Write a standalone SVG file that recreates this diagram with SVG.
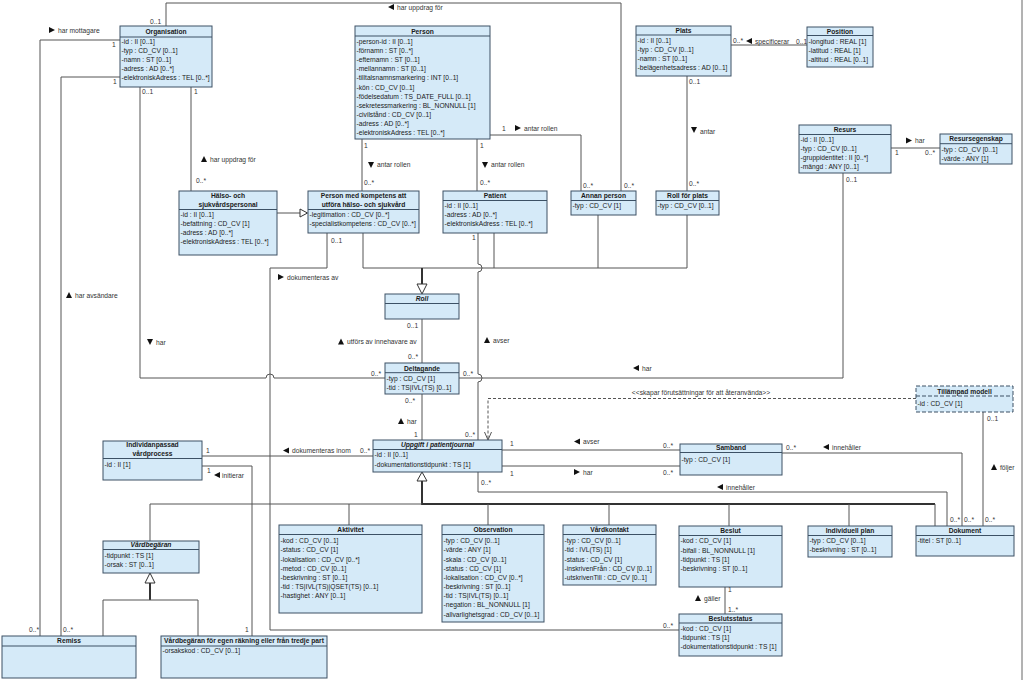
<svg xmlns="http://www.w3.org/2000/svg" width="1024" height="680" viewBox="0 0 1024 680">
<style>
.bg{fill:#ffffff}
.box{fill:#d5eaf8;stroke:#3c5165;stroke-width:1}
.dbox{fill:#d5eaf8;stroke:#3c5165;stroke-width:1;stroke-dasharray:4,2}
.sep{stroke:#3c5165;stroke-width:1}
.dsep{stroke:#3c5165;stroke-width:1;stroke-dasharray:4,2}
text{font-family:"Liberation Sans",Arial,sans-serif;font-size:6.7px;fill:#1a1a1a}
.h{font-weight:bold;text-anchor:middle}
.hi{font-weight:bold;font-style:italic;text-anchor:middle}
.lb{fill:#333}
.ln{fill:none;stroke:#555;stroke-width:1}
.gen{fill:none;stroke:#333;stroke-width:2}
.dl{fill:none;stroke:#555;stroke-width:1;stroke-dasharray:3,2}
.tri{fill:#fff;stroke:#333;stroke-width:1}
.ar{fill:#111}
</style>
<rect class="bg" x="0" y="0" width="1024" height="680"/>
<line x1="1022" y1="0" x2="1022" y2="680" stroke="#666" stroke-width="1"/>

<g id="connectors">
  <!-- Organisation top -> Annan person -->
  <path class="ln" d="M166,26 V3 H621 V191"/>
  <text class="lb" x="150" y="24">0..1</text>
  <polygon class="ar" points="394,4 388,7 394,10"/><text class="lb" x="397" y="9.5">har uppdrag för</text>
  <text class="lb" x="624" y="188">0..*</text>
  <!-- har mottagare -->
  <path class="ln" d="M120,40 H40 V636"/>
  <text class="lb" x="112" y="46.5">1</text>
  <polygon class="ar" points="49,27 55,30 49,33"/><text class="lb" x="58" y="33">har mottagare</text>
  <text class="lb" x="29" y="631.6">0..*</text>
  <!-- har avsändare -->
  <path class="ln" d="M120,77 H61 V636"/>
  <text class="lb" x="113" y="84">1</text>
  <polygon class="ar" points="66,298 69,292 72,298"/><text class="lb" x="75" y="297.5">har avsändare</text>
  <text class="lb" x="63" y="631.6">0..*</text>
  <!-- Organisation -> Deltagande har -->
  <path class="ln" d="M140,87 V378 H266 a4,4 0 0 1 8,0 H385"/>
  <text class="lb" x="142" y="94">0..1</text>
  <polygon class="ar" points="147,339 153,339 150,345"/><text class="lb" x="156" y="344.5">har</text>
  <text class="lb" x="371" y="376">0..*</text>
  <!-- Organisation -> Hälso har uppdrag för -->
  <path class="ln" d="M191,87 V191"/>
  <text class="lb" x="194" y="94">1</text>
  <polygon class="ar" points="201,162 204,156 207,162"/><text class="lb" x="210" y="161.5">har uppdrag för</text>
  <text class="lb" x="196" y="183">0..*</text>
  <!-- Hälso -> PMK generalization -->
  <path class="ln" d="M277,213 H300"/>
  <polygon class="tri" points="300,209 307.5,213 300,217"/>
  <!-- Person -> PMK -->
  <path class="ln" d="M362,139 V191"/>
  <text class="lb" x="364" y="148">1</text>
  <polygon class="ar" points="368,162 374,162 371,168"/><text class="lb" x="377" y="167">antar rollen</text>
  <text class="lb" x="364" y="184.5">0..*</text>
  <!-- Person -> Patient -->
  <path class="ln" d="M477,139 V191"/>
  <text class="lb" x="480" y="148">1</text>
  <polygon class="ar" points="482,162 488,162 485,168"/><text class="lb" x="491" y="167">antar rollen</text>
  <text class="lb" x="480" y="184.5">0..*</text>
  <!-- Person -> Annan person -->
  <path class="ln" d="M490,135 H581 V191"/>
  <text class="lb" x="502" y="131">1</text>
  <polygon class="ar" points="515,125 521,128 515,131"/><text class="lb" x="524" y="130.5">antar rollen</text>
  <text class="lb" x="583" y="188">0..*</text>
  <!-- Plats -> Position -->
  <path class="ln" d="M731,45 H807"/>
  <text class="lb" x="733" y="42.5">0..*</text>
  <polygon class="ar" points="752,38 746,41 752,44"/><text class="lb" x="755" y="43.5">specificerar</text>
  <text class="lb" x="796" y="43.5">0..1</text>
  <!-- Plats -> Roll för plats -->
  <path class="ln" d="M687,76 V191"/>
  <text class="lb" x="689" y="83.5">0..1</text>
  <polygon class="ar" points="691,127 697,127 694,133"/><text class="lb" x="700" y="133.5">antar</text>
  <text class="lb" x="689" y="186">0..*</text>
  <!-- Resurs -> Resursegenskap -->
  <path class="ln" d="M891,148 H940"/>
  <text class="lb" x="895" y="155">1</text>
  <polygon class="ar" points="906,137.5 912,140.5 906,143.5"/><text class="lb" x="915" y="143">har</text>
  <text class="lb" x="925" y="155">0..*</text>
  <!-- Resurs -> Deltagande -->
  <path class="ln" d="M843,173 V378 H459"/>
  <text class="lb" x="846" y="181.5">0..1</text>
  <polygon class="ar" points="639,365 633,368 639,371"/><text class="lb" x="642" y="370.5">har</text>
  <text class="lb" x="463" y="376">0..*</text>
  <!-- Roll -> Deltagande -->
  <path class="ln" d="M422,319 V363"/>
  <text class="lb" x="407" y="328">0..1</text>
  <polygon class="ar" points="338,344.5 341,338.5 344,344.5"/><text class="lb" x="347" y="344">utförs av innehavare av</text>
  <text class="lb" x="408" y="359">0..*</text>
  <!-- Deltagande -> Uppgift -->
  <path class="ln" d="M422,394 V440"/>
  <text class="lb" x="405" y="403">0..*</text>
  <polygon class="ar" points="398,424 401,418 404,424"/><text class="lb" x="407" y="423.5">har</text>
  <text class="lb" x="414" y="436.5">1</text>
  <!-- Patient -> Uppgift avser -->
  <path class="ln" d="M478,233 V264 a4,4 0 0 1 0,8 V374 a4,4 0 0 1 0,8 V440"/>
  <text class="lb" x="472" y="240">1</text>
  <polygon class="ar" points="484,343 487,337 490,343"/><text class="lb" x="493" y="343">avser</text>
  <text class="lb" x="465" y="436.5">0..*</text>
  <!-- generalization to Roll -->
  <path class="ln" d="M363,233 V268 H687 M494,233 V268 M598,215 V268 M687,215 V268"/>
  <path class="gen" d="M422,268 V284"/>
  <polygon class="tri" points="417,284 427,284 422,294"/>
  <!-- PMK -> Beslutsstatus dokumenteras av -->
  <path class="ln" d="M327,233 V268 H270 V630 H679"/>
  <text class="lb" x="331" y="243">0..1</text>
  <polygon class="ar" points="278,274 284,277 278,280"/><text class="lb" x="287" y="280">dokumenteras av</text>
  <text class="lb" x="663" y="627.5">0..*</text>
  <!-- Individanpassad -> Uppgift -->
  <path class="ln" d="M202,456 H373"/>
  <text class="lb" x="206" y="453">1</text>
  <polygon class="ar" points="289,447.5 283,450.5 289,453.5"/><text class="lb" x="292" y="453">dokumenteras inom</text>
  <text class="lb" x="360" y="453">0..*</text>
  <!-- initierar -->
  <path class="ln" d="M202,466 H252 V636"/>
  <text class="lb" x="207" y="472.5">1</text>
  <polygon class="ar" points="220,472 214,475 220,478"/><text class="lb" x="222" y="477.5">initierar</text>
  <text class="lb" x="245" y="631.6">1</text>
  <!-- Uppgift generalization tree -->
  <polygon class="tri" points="417,481 427,481 422,472"/>
  <path class="gen" d="M422,481 V504 H935"/>
  <path class="ln" d="M150,504 H422 M150,504 V541 M349,504 V525 M488,504 V525 M609,504 V525 M729,504 V526 M849,504 V526 M935,504 V526"/>
  <!-- Vårdbegäran generalization -->
  <polygon class="tri" points="145,583 155,583 150,573"/>
  <path class="gen" d="M150,583 V600"/>
  <path class="ln" d="M103,600 H198 M103,600 V636 M198,600 V636"/>
  <!-- Uppgift -> Samband avser / har -->
  <path class="ln" d="M502,450 H680 M502,466 H680"/>
  <text class="lb" x="510" y="445.5">1</text>
  <polygon class="ar" points="580,438.5 574,441.5 580,444.5"/><text class="lb" x="583" y="444">avser</text>
  <text class="lb" x="663" y="448">0..*</text>
  <text class="lb" x="510" y="475.5">1</text>
  <polygon class="ar" points="574,469 580,472 574,475"/><text class="lb" x="583" y="474.5">har</text>
  <text class="lb" x="663" y="474.5">0..*</text>
  <!-- Uppgift -> Dokument innehåller -->
  <path class="ln" d="M478,472 V492 H947 V526"/>
  <text class="lb" x="481" y="485">0..*</text>
  <polygon class="ar" points="723,484 717,487 723,490"/><text class="lb" x="726" y="489.5">innehåller</text>
  <text class="lb" x="950" y="522">0..*</text>
  <!-- Samband -> Dokument innehåller -->
  <path class="ln" d="M782,453 H962 V526"/>
  <text class="lb" x="786" y="449.5">0..*</text>
  <polygon class="ar" points="829,444 823,447 829,450"/><text class="lb" x="832" y="449.5">innehåller</text>
  <text class="lb" x="964" y="522">0..*</text>
  <!-- Tillämpad modell -> Dokument följer -->
  <path class="ln" d="M983,412 V526"/>
  <text class="lb" x="987" y="421">0..1</text>
  <polygon class="ar" points="991,470 994,464 997,470"/><text class="lb" x="1000" y="469.5">följer</text>
  <text class="lb" x="985" y="522">0..*</text>
  <!-- Tillämpad modell -> Uppgift dependency -->
  <path class="dl" d="M916,398.5 H488 V439"/>
  <polyline class="ln" points="484.5,432 488,440 491.5,432"/>
  <text class="lb" x="701" y="394.5" text-anchor="middle">&lt;&lt;skapar förutsättningar för att återanvända&gt;&gt;</text>
  <!-- Beslut -> Beslutsstatus -->
  <path class="ln" d="M725,587 V614"/>
  <text class="lb" x="728" y="592">1</text>
  <polygon class="ar" points="695,601 698,595 701,601"/><text class="lb" x="704" y="600.5">gäller</text>
  <text class="lb" x="728" y="611.5">1..*</text>
</g>

<g id="organisation">
  <rect class="box" x="120" y="26" width="92" height="61"/>
  <line class="sep" x1="120" y1="37" x2="212" y2="37"/>
  <text class="h" x="166" y="33.6">Organisation</text>
  <text x="121.5" y="44.3">-id : II [0..1]</text>
  <text x="121.5" y="53.3">-typ : CD_CV [0..1]</text>
  <text x="121.5" y="62.3">-namn : ST [0..1]</text>
  <text x="121.5" y="71.3">-adress : AD [0..*]</text>
  <text x="121.5" y="80.3">-elektroniskAdress : TEL [0..*]</text>
</g>

<g id="person">
  <rect class="box" x="355" y="26" width="135" height="113"/>
  <line class="sep" x1="355" y1="36" x2="490" y2="36"/>
  <text class="h" x="422.5" y="33.5">Person</text>
  <text x="356.5" y="44">-person-id : II [0..1]</text>
  <text x="356.5" y="53.1">-förnamn : ST [0..*]</text>
  <text x="356.5" y="62.2">-efternamn : ST [0..1]</text>
  <text x="356.5" y="71.3">-mellannamn : ST [0..1]</text>
  <text x="356.5" y="80.4">-tilltalsnamnsmarkering : INT [0..1]</text>
  <text x="356.5" y="89.5">-kön : CD_CV [0..1]</text>
  <text x="356.5" y="98.6">-födelsedatum : TS_DATE_FULL [0..1]</text>
  <text x="356.5" y="107.7">-sekretessmarkering : BL_NONNULL [1]</text>
  <text x="356.5" y="116.8">-civilstånd : CD_CV [0..1]</text>
  <text x="356.5" y="125.9">-adress : AD [0..*]</text>
  <text x="356.5" y="135">-elektroniskAdress : TEL [0..*]</text>
</g>

<g id="plats">
  <rect class="box" x="636" y="26" width="95" height="50"/>
  <line class="sep" x1="636" y1="35" x2="731" y2="35"/>
  <text class="h" x="683.5" y="33">Plats</text>
  <text x="637.5" y="43.3">-id : II [0..1]</text>
  <text x="637.5" y="52.3">-typ : CD_CV [0..1]</text>
  <text x="637.5" y="61.3">-namn : ST [0..1]</text>
  <text x="637.5" y="70.3">-belägenhetsadress : AD [0..1]</text>
</g>

<g id="position">
  <rect class="box" x="807" y="27" width="66" height="40"/>
  <line class="sep" x1="807" y1="35.5" x2="873" y2="35.5"/>
  <text class="h" x="840" y="33.5">Position</text>
  <text x="808.5" y="44.3">-longitud : REAL [1]</text>
  <text x="808.5" y="53.3">-latitud : REAL [1]</text>
  <text x="808.5" y="62.3">-altitud : REAL [0..1]</text>
</g>

<g id="resurs">
  <rect class="box" x="799" y="125" width="92" height="48"/>
  <line class="sep" x1="799" y1="134.5" x2="891" y2="134.5"/>
  <text class="h" x="845" y="131.6">Resurs</text>
  <text x="800.5" y="141.6">-id : II [0..1]</text>
  <text x="800.5" y="150.7">-typ : CD_CV [0..1]</text>
  <text x="800.5" y="159.8">-gruppidentitet : II [0..*]</text>
  <text x="800.5" y="168.9">-mängd : ANY [0..1]</text>
</g>

<g id="resursegenskap">
  <rect class="box" x="940" y="134" width="72" height="30"/>
  <line class="sep" x1="940" y1="143.7" x2="1012" y2="143.7"/>
  <text class="h" x="976" y="141.3">Resursegenskap</text>
  <text x="941.5" y="151.6">-typ : CD_CV [0..1]</text>
  <text x="941.5" y="160.6">-värde : ANY [1]</text>
</g>

<g id="halso-och-sjukvardspersonal">
  <rect class="box" x="179" y="191" width="98" height="64"/>
  <line class="sep" x1="179" y1="209.5" x2="277" y2="209.5"/>
  <text class="h" x="228" y="198">Hälso- och</text>
  <text class="h" x="228" y="206.6">sjukvårdspersonal</text>
  <text x="180.5" y="216.6">-id : II [0..1]</text>
  <text x="180.5" y="225.7">-befattning : CD_CV [1]</text>
  <text x="180.5" y="234.8">-adress : AD [0..*]</text>
  <text x="180.5" y="243.9">-elektroniskAdress : TEL [0..*]</text>
</g>

<g id="person-med-kompetens">
  <rect class="box" x="308" y="191" width="111" height="42"/>
  <line class="sep" x1="308" y1="209.5" x2="419" y2="209.5"/>
  <text class="h" x="363.5" y="198">Person med kompetens att</text>
  <text class="h" x="363.5" y="206.6">utföra hälso- och sjukvård</text>
  <text x="309.5" y="216.6">-legitimation : CD_CV [0..*]</text>
  <text x="309.5" y="225.6">-specialistkompetens : CD_CV [0..*]</text>
</g>

<g id="patient">
  <rect class="box" x="443" y="191" width="104" height="42"/>
  <line class="sep" x1="443" y1="200.5" x2="547" y2="200.5"/>
  <text class="h" x="495" y="198">Patient</text>
  <text x="444.5" y="208">-id : II [0..1]</text>
  <text x="444.5" y="217.2">-adress : AD [0..*]</text>
  <text x="444.5" y="226.4">-elektroniskAdress : TEL [0..*]</text>
</g>

<g id="annan-person">
  <rect class="box" x="571" y="191" width="65" height="24"/>
  <line class="sep" x1="571" y1="200.5" x2="636" y2="200.5"/>
  <text class="h" x="603.5" y="198">Annan person</text>
  <text x="572.5" y="208.3">-typ : CD_CV [1]</text>
</g>

<g id="roll-for-plats">
  <rect class="box" x="656" y="191" width="63" height="24"/>
  <line class="sep" x1="656" y1="200.5" x2="719" y2="200.5"/>
  <text class="h" x="687.5" y="198">Roll för plats</text>
  <text x="657.5" y="208.3">-typ : CD_CV [0..1]</text>
</g>

<g id="roll">
  <rect class="box" x="385" y="294" width="74" height="25"/>
  <line class="sep" x1="385" y1="303.5" x2="459" y2="303.5"/>
  <text class="hi" x="422" y="301.3">Roll</text>
</g>

<g id="deltagande">
  <rect class="box" x="385" y="363" width="74" height="31"/>
  <line class="sep" x1="385" y1="372.7" x2="459" y2="372.7"/>
  <text class="h" x="422" y="370.6">Deltagande</text>
  <text x="386.5" y="380.6">-typ : CD_CV [1]</text>
  <text x="386.5" y="389.6">-tid : TS|IVL(TS) [0..1]</text>
</g>

<g id="uppgift-i-patientjournal">
  <rect class="box" x="373" y="440" width="129" height="32"/>
  <line class="sep" x1="373" y1="449.5" x2="502" y2="449.5"/>
  <text class="hi" x="437.5" y="447.3">Uppgift i patientjournal</text>
  <text x="374.5" y="457.3">-id : II [0..1]</text>
  <text x="374.5" y="466.6">-dokumentationstidpunkt : TS [1]</text>
</g>

<g id="individanpassad-vardprocess">
  <rect class="box" x="103" y="441" width="99" height="39"/>
  <line class="sep" x1="103" y1="458.5" x2="202" y2="458.5"/>
  <text class="h" x="152.5" y="447.3">Individanpassad</text>
  <text class="h" x="152.5" y="456.3">vårdprocess</text>
  <text x="104.5" y="467.3">-id : II [1]</text>
</g>

<g id="vardbegaran">
  <rect class="box" x="103" y="541" width="96" height="32"/>
  <line class="sep" x1="103" y1="549.5" x2="199" y2="549.5"/>
  <text class="hi" x="151" y="547.3">Vårdbegäran</text>
  <text x="104.5" y="558.3">-tidpunkt : TS [1]</text>
  <text x="104.5" y="567.3">-orsak : ST [0..1]</text>
</g>

<g id="remiss">
  <rect class="box" x="2" y="636" width="134" height="42"/>
  <line class="sep" x1="2" y1="646" x2="136" y2="646"/>
  <text class="h" x="69" y="643">Remiss</text>
</g>

<g id="vardbegaran-egen-rakning">
  <rect class="box" x="161" y="636" width="166" height="42"/>
  <line class="sep" x1="161" y1="646" x2="327" y2="646"/>
  <text class="h" x="244" y="643">Vårdbegäran för egen räkning eller från tredje part</text>
  <text x="162.5" y="653">-orsakskod : CD_CV [0..1]</text>
</g>

<g id="aktivitet">
  <rect class="box" x="279" y="525" width="143" height="88"/>
  <line class="sep" x1="279" y1="534.5" x2="422" y2="534.5"/>
  <text class="h" x="350.5" y="532.3">Aktivitet</text>
  <text x="280.5" y="543.3">-kod : CD_CV [0..1]</text>
  <text x="280.5" y="552.4">-status : CD_CV [1]</text>
  <text x="280.5" y="561.5">-lokalisation : CD_CV [0..*]</text>
  <text x="280.5" y="570.7">-metod : CD_CV [0..1]</text>
  <text x="280.5" y="579.9">-beskrivning : ST [0..1]</text>
  <text x="280.5" y="589">-tid : TS|IVL(TS)|QSET(TS) [0..1]</text>
  <text x="280.5" y="598.2">-hastighet : ANY [0..1]</text>
</g>

<g id="observation">
  <rect class="box" x="442" y="525" width="102" height="97"/>
  <line class="sep" x1="442" y1="534.5" x2="544" y2="534.5"/>
  <text class="h" x="493" y="532.3">Observation</text>
  <text x="443.5" y="543.3">-typ : CD_CV [0..1]</text>
  <text x="443.5" y="552.4">-värde : ANY [1]</text>
  <text x="443.5" y="561.5">-skala : CD_CV [0..1]</text>
  <text x="443.5" y="570.7">-status : CD_CV [1]</text>
  <text x="443.5" y="579.9">-lokalisation : CD_CV [0..*]</text>
  <text x="443.5" y="589">-beskrivning : ST [0..1]</text>
  <text x="443.5" y="598.2">-tid : TS|IVL(TS) [0..1]</text>
  <text x="443.5" y="607.3">-negation : BL_NONNULL [1]</text>
  <text x="443.5" y="616.5">-allvarlighetsgrad : CD_CV [0..1]</text>
</g>

<g id="vardkontakt">
  <rect class="box" x="563" y="525" width="93" height="60"/>
  <line class="sep" x1="563" y1="534.5" x2="656" y2="534.5"/>
  <text class="h" x="609.5" y="532.3">Vårdkontakt</text>
  <text x="564.5" y="543.3">-typ : CD_CV [0..1]</text>
  <text x="564.5" y="552.4">-tid : IVL(TS) [1]</text>
  <text x="564.5" y="561.5">-status : CD_CV [1]</text>
  <text x="564.5" y="570.7">-inskrivenFrån : CD_CV [0..1]</text>
  <text x="564.5" y="579.9">-utskrivenTill : CD_CV [0..1]</text>
</g>

<g id="beslut">
  <rect class="box" x="679" y="526" width="103" height="61"/>
  <line class="sep" x1="679" y1="535.5" x2="782" y2="535.5"/>
  <text class="h" x="730.5" y="533">Beslut</text>
  <text x="680.5" y="543.3">-kod : CD_CV [1]</text>
  <text x="680.5" y="552.5">-bifall : BL_NONNULL [1]</text>
  <text x="680.5" y="561.7">-tidpunkt : TS [1]</text>
  <text x="680.5" y="570.9">-beskrivning : ST [0..1]</text>
</g>

<g id="beslutsstatus">
  <rect class="box" x="679" y="614" width="103" height="42"/>
  <line class="sep" x1="679" y1="623" x2="782" y2="623"/>
  <text class="h" x="730.5" y="620.6">Beslutsstatus</text>
  <text x="680.5" y="631.3">-kod : CD_CV [1]</text>
  <text x="680.5" y="640.3">-tidpunkt : TS [1]</text>
  <text x="680.5" y="649.3">-dokumentationstidpunkt : TS [1]</text>
</g>

<g id="individuell-plan">
  <rect class="box" x="808" y="526" width="84" height="31"/>
  <line class="sep" x1="808" y1="535.5" x2="892" y2="535.5"/>
  <text class="h" x="850" y="533">Individuell plan</text>
  <text x="809.5" y="543.3">-typ : CD_CV [0..1]</text>
  <text x="809.5" y="552.3">-beskrivning : ST [0..1]</text>
</g>

<g id="dokument">
  <rect class="box" x="916" y="526" width="98" height="30"/>
  <line class="sep" x1="916" y1="535.5" x2="1014" y2="535.5"/>
  <text class="h" x="965" y="533">Dokument</text>
  <text x="917.5" y="543.3">-titel : ST [0..1]</text>
</g>

<g id="tillampad-modell">
  <rect class="dbox" x="916" y="386" width="97" height="26"/>
  <line class="dsep" x1="916" y1="396" x2="1013" y2="396"/>
  <text class="h" x="964.5" y="393.8">Tillämpad modell</text>
  <text x="917.5" y="406">-id : CD_CV [1]</text>
</g>

<g id="samband">
  <rect class="box" x="680" y="444" width="102" height="31"/>
  <line class="sep" x1="680" y1="452.5" x2="782" y2="452.5"/>
  <text class="h" x="731" y="450.3">Samband</text>
  <text x="681.5" y="461.8">-typ : CD_CV [1]</text>
</g>
</svg>
